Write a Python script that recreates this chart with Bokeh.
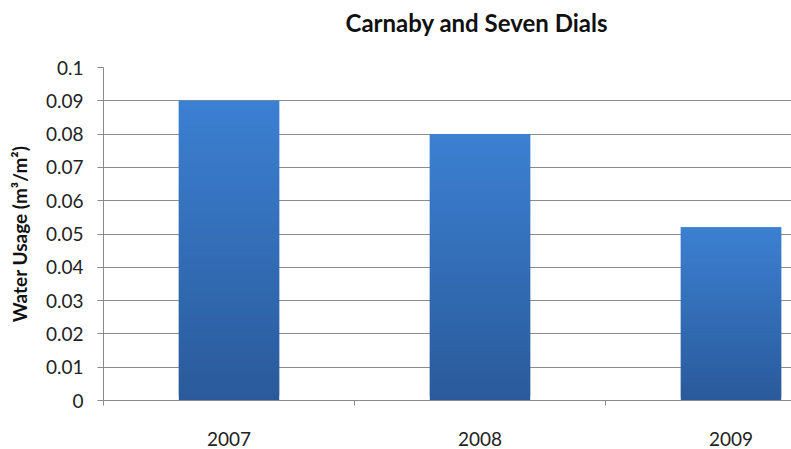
from bokeh.plotting import figure
from bokeh.models import Range1d, FixedTicker, ColumnDataSource, Title
from bokeh.embed import file_html
from bokeh.resources import INLINE

# Data
years = ["2007", "2008", "2009"]
usage = [0.09, 0.08, 0.052]
y_ticks = [0.0, 0.01, 0.02, 0.03, 0.04, 0.05, 0.06, 0.07, 0.08, 0.09, 0.1]
title_text = "Carnaby and Seven Dials"
y_label = "Water Usage (m³/m²)"

FONT = "Lato"
TOP_RGB = (60, 128, 210)
BOT_RGB = (42, 90, 154)
N = 60
BAR_W = 0.4

p = figure(width=791, height=449, output_backend="svg", toolbar_location=None,
           x_range=Range1d(0, 2.741), y_range=Range1d(0, 0.1),
           min_border_left=103, min_border_right=0, min_border_top=67, min_border_bottom=49)
p.outline_line_color = None
p.background_fill_color = "white"
p.border_fill_color = "white"

# gradient bars as stacked slices
lefts, rights, bottoms, tops, colors = [], [], [], [], []
for i, v in enumerate(usage):
    cx = i + 0.5
    for k in range(N):
        t = (k + 0.5) / N  # 0 bottom -> 1 top
        r = round(BOT_RGB[0] + (TOP_RGB[0] - BOT_RGB[0]) * t)
        g = round(BOT_RGB[1] + (TOP_RGB[1] - BOT_RGB[1]) * t)
        b = round(BOT_RGB[2] + (TOP_RGB[2] - BOT_RGB[2]) * t)
        lefts.append(cx - BAR_W / 2)
        rights.append(cx + BAR_W / 2)
        bottoms.append(v * k / N)
        tops.append(v * (k + 1) / N + (0 if k == N - 1 else v / N))
        colors.append("#%02x%02x%02x" % (r, g, b))
src = ColumnDataSource(dict(left=lefts, right=rights, bottom=bottoms, top=tops, color=colors))
p.quad(left="left", right="right", bottom="bottom", top="top", fill_color="color",
       line_color=None, source=src)

# y axis
p.yaxis.ticker = FixedTicker(ticks=y_ticks)
p.yaxis.major_label_overrides = {t: ("0" if t == 0 else ("%g" % t)) for t in y_ticks}
p.yaxis.axis_line_color = "#8a8a8a"
p.yaxis.major_tick_line_color = "#8a8a8a"
p.yaxis.major_tick_out = 6
p.yaxis.major_tick_in = 0
p.yaxis.minor_tick_line_color = None
p.yaxis.major_label_text_font = FONT
p.yaxis.major_label_text_font_size = "19px"
p.yaxis.major_label_text_color = "#222222"
p.yaxis.major_label_standoff = 14
p.yaxis.axis_label = y_label
p.yaxis.axis_label_text_font = FONT
p.yaxis.axis_label_text_font_size = "19px"
p.yaxis.axis_label_text_font_style = "bold"
p.yaxis.axis_label_text_color = "#111111"
p.yaxis.axis_label_standoff = 12

# x axis
centers = [i + 0.5 for i in range(len(years))]
bounds = [float(i) for i in range(len(years))]
p.xaxis.ticker = FixedTicker(ticks=centers, minor_ticks=bounds)
p.xaxis.major_label_overrides = {c: y for c, y in zip(centers, years)}
p.xaxis.axis_line_color = "#8a8a8a"
p.xaxis.major_tick_line_color = None
p.xaxis.minor_tick_line_color = "#8a8a8a"
p.xaxis.minor_tick_out = 5
p.xaxis.minor_tick_in = 0
p.xaxis.major_label_text_font = FONT
p.xaxis.major_label_text_font_size = "19px"
p.xaxis.major_label_text_color = "#222222"
p.xaxis.major_label_standoff = 25

# grid
p.xgrid.grid_line_color = None
p.ygrid.grid_line_color = "#8c8c8c"
p.ygrid.grid_line_width = 1

# chart title (outermost slot)
p.title.text = title_text
p.title.text_font = FONT
p.title.text_font_size = "24px"
p.title.text_font_style = "bold"
p.title.text_color = "#111111"
p.title.align = "left"
p.title.offset = 242
p.title.standoff = 0

# blank spacer slot between the title and the frame
p.add_layout(Title(text=" ", text_font_size="20px", standoff=7), "above")

open("out.html", "w").write(file_html(p, INLINE))
